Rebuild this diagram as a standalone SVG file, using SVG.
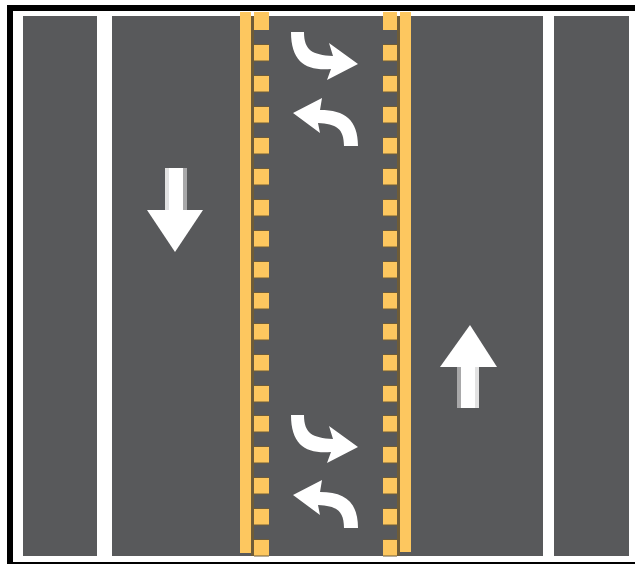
<svg xmlns="http://www.w3.org/2000/svg" width="635" height="564" viewBox="0 0 635 564">
<defs>
<style>
.road{fill:#58595b}
.y{fill:#fdc75f}
.br{fill:#6e5c38}
.w{fill:#fff}
.lg{fill:#e2e2e2}
.dg{fill:#a8a8a9}
</style>
<g id="dl"><rect class="br" x="0" y="-1" width="15" height="17.5"/><rect class="y" x="0" y="0" width="15" height="15.5"/></g>
<g id="dr"><rect class="br" x="0" y="-1" width="14" height="17.5"/><rect class="y" x="0" y="0" width="14" height="15.5"/></g>
<path id="ra" class="w" d="M291,32H304C304,50 312,55 333,56L329,43L358,64L327,80L331,69C306,71 291,62 291,32Z"/>
<path id="la" class="w" d="M293,113L322,98L320,110C345,110 358,120 358,146H344C344,128 336,124 318,123L320,133Z"/>
</defs>
<rect width="635" height="564" fill="#fff"/>
<path d="M7,5H635V11H13V562H635V564H7Z" fill="#000"/>
<g id="pavement">
<rect class="road" x="23" y="16" width="74" height="540"/>
<rect class="road" x="112" y="16" width="431" height="540"/>
<rect class="road" x="554" y="16" width="75" height="540"/>
</g>
<g id="center-lines">
<rect class="br" x="251" y="16" width="3" height="540"/>
<rect class="br" x="397" y="16" width="3" height="540"/>
<rect class="y" x="240" y="12" width="11" height="541"/>
<rect class="y" x="400" y="12" width="11" height="540"/>
<rect class="y" x="254" y="12" width="15" height="18"/>
<rect class="y" x="383" y="12" width="14" height="18"/>
<use href="#dl" x="254" y="45"/><use href="#dl" x="254" y="76"/><use href="#dl" x="254" y="107"/><use href="#dl" x="254" y="138"/><use href="#dl" x="254" y="169"/><use href="#dl" x="254" y="200"/><use href="#dl" x="254" y="231"/><use href="#dl" x="254" y="262"/><use href="#dl" x="254" y="293"/><use href="#dl" x="254" y="324"/><use href="#dl" x="254" y="355"/><use href="#dl" x="254" y="386"/><use href="#dl" x="254" y="416"/><use href="#dl" x="254" y="447"/><use href="#dl" x="254" y="478"/><use href="#dl" x="254" y="509"/><use href="#dl" x="254" y="540"/>
<use href="#dr" x="383" y="45"/><use href="#dr" x="383" y="76"/><use href="#dr" x="383" y="107"/><use href="#dr" x="383" y="138"/><use href="#dr" x="383" y="169"/><use href="#dr" x="383" y="200"/><use href="#dr" x="383" y="231"/><use href="#dr" x="383" y="262"/><use href="#dr" x="383" y="293"/><use href="#dr" x="383" y="324"/><use href="#dr" x="383" y="355"/><use href="#dr" x="383" y="386"/><use href="#dr" x="383" y="416"/><use href="#dr" x="383" y="447"/><use href="#dr" x="383" y="478"/><use href="#dr" x="383" y="509"/><use href="#dr" x="383" y="540"/>
</g>
<g id="turn-arrows-top"><use href="#ra"/><use href="#la"/></g>
<g id="turn-arrows-bottom"><use href="#ra" y="383"/><use href="#la" y="382"/></g>
<g id="arrow-down">
<rect class="lg" x="165" y="168" width="4" height="43"/>
<rect class="w" x="169" y="168" width="14" height="43"/>
<rect class="dg" x="183" y="168" width="4" height="43"/>
<path class="w" d="M147,210H203L175,252Z"/>
</g>
<g id="arrow-up">
<rect class="dg" x="457" y="366" width="4" height="42"/>
<rect class="w" x="461" y="366" width="14" height="42"/>
<rect class="lg" x="475" y="366" width="4" height="42"/>
<path class="w" d="M470,325L497,367H440Z"/>
</g>
</svg>
